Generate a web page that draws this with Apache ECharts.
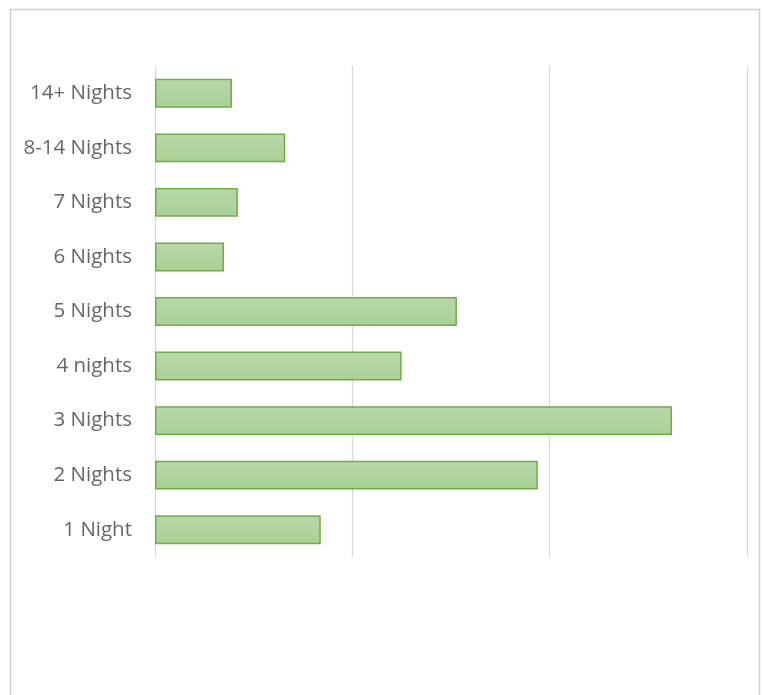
<!DOCTYPE html>
<html><head><meta charset="utf-8">
<script src="https://cdn.jsdelivr.net/npm/echarts@6/dist/echarts.min.js"></script>
<style>html,body{margin:0;padding:0;background:#fff}#c{width:763px;height:695px}</style>
</head><body><div id="c"></div>
<script>
const categories = ['1 Night','2 Nights','3 Nights','4 nights','5 Nights','6 Nights','7 Nights','8-14 Nights','14+ Nights'];
const values = [84, 194, 262, 125, 153, 35, 42, 66, 39];
const chart = echarts.init(document.getElementById('c'));
chart.setOption({
  animation:false,
  backgroundColor:'#fff',
  graphic:[{type:'rect',shape:{x:10.5,y:9.5,width:749,height:720},style:{fill:'none',stroke:'#d0d0d0',lineWidth:1.5},silent:true}],
  grid:{left:155,right:16,top:66,bottom:138,containLabel:false},
  xAxis:{type:'value',min:0,max:300,interval:100,
    axisLabel:{show:false},axisLine:{show:false},axisTick:{show:false},
    splitLine:{show:true,lineStyle:{color:'#d9d9d9',width:1.3}}},
  yAxis:{type:'category',data:categories,
    axisLine:{show:false},axisTick:{show:false},
    axisLabel:{color:'#666666',fontSize:20.5,fontFamily:'Open Sans',margin:23}},
  series:[{type:'bar',data:values,barWidth:'53%',
    itemStyle:{color:new echarts.graphic.LinearGradient(0,0,0,1,[{offset:0,color:'#b8d8aa'},{offset:1,color:'#a9d095'}]),
      borderColor:'#70ad47',borderWidth:1.5}}]
});
</script></body></html>
